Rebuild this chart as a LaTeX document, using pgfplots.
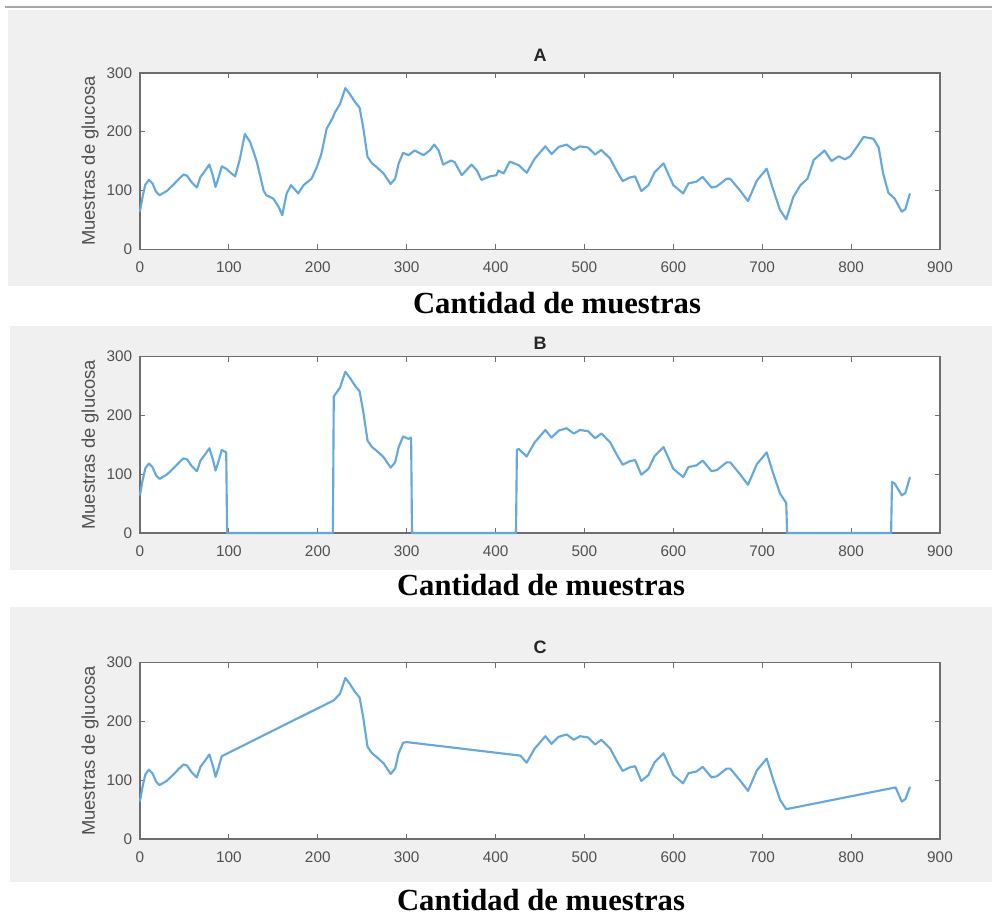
\documentclass[border=0pt]{standalone}
\usepackage{fontspec}
\setmainfont{Liberation Serif}
\newfontfamily\sans{Liberation Sans}
\usepackage{pgfplots}
\pgfplotsset{compat=1.18}
\usepackage{pgfplotstable}
\definecolor{figgray}{RGB}{240,240,240}
\definecolor{sig}{RGB}{100,168,220}
\definecolor{axgray}{RGB}{110,110,110}
\definecolor{txtgray}{RGB}{80,80,80}

\pgfplotstableread{
x y
0 65
3 90
6 110
10 118
14 112
18 98
22 92
30 99
37 109
44 120
49 127
53 125
58 114
64 105
68 123
73 133
78 144
82 125
85 106
88 120
92 141
97 137
102 130
107 124
112 151
118 196
124 182
131 151
136 120
139 100
142 92
150 86
156 72
160 58
165 95
170 109
178 95
184 109
193 120
199 140
204 162
210 205
217 224
219 232
225 247
231 274
236 264
242 250
247 241
251 208
256 157
261 146
266 140
274 129
282 111
287 120
291 146
296 164
302 160
309 168
319 160
326 168
331 178
336 168
341 144
350 151
354 148
362 126
373 144
379 134
384 118
394 124
401 126
403 134
409 129
416 149
426 143
435 130
444 154
456 175
463 162
471 174
480 178
488 169
495 175
504 173
512 161
519 169
529 154
536 134
543 116
551 122
557 124
564 99
572 109
579 131
589 146
600 109
611 95
617 112
626 115
633 123
643 105
649 107
660 120
664 120
675 100
684 82
694 117
705 137
712 103
720 67
727 51
735 89
743 109
751 120
758 152
765 161
770 168
778 150
786 158
793 153
799 158
806 173
814 191
825 188
831 173
836 129
842 96
849 86
857 64
861 68
866 94
}\dataA

\pgfplotstableread{
x y
0 65
3 90
6 110
10 118
14 112
18 98
22 92
30 99
37 109
44 120
49 127
53 125
58 114
64 105
68 123
73 133
78 144
82 125
85 106
88 120
92 141
97 137
98 0
217 0
218 232
225 247
231 274
236 264
242 250
247 241
251 208
256 157
261 146
266 140
274 129
282 111
287 120
291 146
296 164
302 160
305 162
306 0
423 0
424 141
426 143
435 130
444 154
456 175
463 162
471 174
480 178
488 169
495 175
504 173
512 161
519 169
529 154
536 134
543 116
551 122
557 124
564 99
572 109
579 131
589 146
600 109
611 95
617 112
626 115
633 123
643 105
649 107
660 120
664 120
675 100
684 82
694 117
705 137
712 103
720 67
727 51
728 0
845 0
846 87
849 84
857 64
861 68
866 94
}\dataB

\pgfplotstableread{
x y
0 65
3 90
6 110
10 118
14 112
18 98
22 92
30 99
37 109
44 120
49 127
53 125
58 114
64 105
68 123
73 133
78 144
82 125
85 106
88 120
92 141
218 236
225 247
231 274
236 264
242 250
247 241
251 208
256 157
261 146
266 140
274 129
282 111
287 120
291 146
296 164
300 165
428 142
435 130
444 154
456 175
463 162
471 174
480 178
488 169
495 175
504 173
512 161
519 169
529 154
536 134
543 116
551 122
557 124
564 99
572 109
579 131
589 146
600 109
611 95
617 112
626 115
633 123
643 105
649 107
660 120
664 120
675 100
684 82
694 117
705 137
712 103
720 67
727 51
850 88
857 64
861 68
866 88
}\dataC

\pgfplotsset{
  glu/.style={
    scale only axis, width=600pt, height=132.4pt, anchor=south west,
    xmin=0, xmax=900, ymin=0, ymax=300,
    xtick={0,100,...,900}, ytick={0,100,200,300},
    tick align=inside, major tick length=4pt,
    axis line style={axgray, line width=1.2pt},
    every tick/.style={axgray, line width=0.9pt},
    clip=false,
    ticklabel style={font=\sans\fontsize{11.5}{13}\selectfont, text=txtgray},
    /pgf/number format/assume math mode=true,
    xticklabel style={yshift=-6pt},
    yticklabel style={xshift=-2.4pt},
    ylabel={Muestras de glucosa},
    ylabel style={font=\sans\fontsize{13.8}{15}\selectfont, text=txtgray,
      at={(axis description cs:-0.0625,0.5)}, anchor=center},
    axis background/.style={fill=white},
  },
  sigline/.style={sig, line width=1.6pt, line join=round, line cap=round, no marks},
}

\begin{document}
\begin{tikzpicture}
\useasboundingbox (0pt,0pt) rectangle (744pt,687pt);
% figure backgrounds
\fill[figgray] (6pt,472.5pt) rectangle (744pt,679.5pt);
\draw[gray!70, line width=1.2pt] (4pt,681.75pt) -- (744pt,681.75pt);
\fill[figgray] (7.5pt,259.5pt) rectangle (744pt,442.5pt);
\fill[figgray] (7.5pt,25.5pt) rectangle (744pt,231.75pt);

\begin{axis}[glu, at={(105pt,500pt)}]
\addplot[sigline] table[x=x,y=y] {\dataA};
\end{axis}
\begin{axis}[glu, at={(105pt,287.25pt)}]
\addplot[sigline] table[x=x,y=y] {\dataB};
\end{axis}
\begin{axis}[glu, at={(105pt,57.6pt)}]
\addplot[sigline] table[x=x,y=y] {\dataC};
\end{axis}

% panel titles
\node[font=\sans\bfseries\fontsize{13.5}{15}\selectfont, text=black!85] at (405pt,645.4pt) {A};
\node[font=\sans\bfseries\fontsize{13.5}{15}\selectfont, text=black!85] at (405pt,429.75pt) {B};
\node[font=\sans\bfseries\fontsize{13.5}{15}\selectfont, text=black!85] at (405pt,201.75pt) {C};

% x-axis captions
\node[font=\bfseries\fontsize{23}{26}\selectfont, inner sep=0pt, anchor=base] at (417.75pt,451.5pt) {Cantidad de muestras};
\node[font=\bfseries\fontsize{23}{26}\selectfont, inner sep=0pt, anchor=base] at (405.75pt,240pt) {Cantidad de muestras};
\node[font=\bfseries\fontsize{23}{26}\selectfont, inner sep=0pt, anchor=base] at (405.75pt,4pt) {Cantidad de muestras};
\end{tikzpicture}
\end{document}
